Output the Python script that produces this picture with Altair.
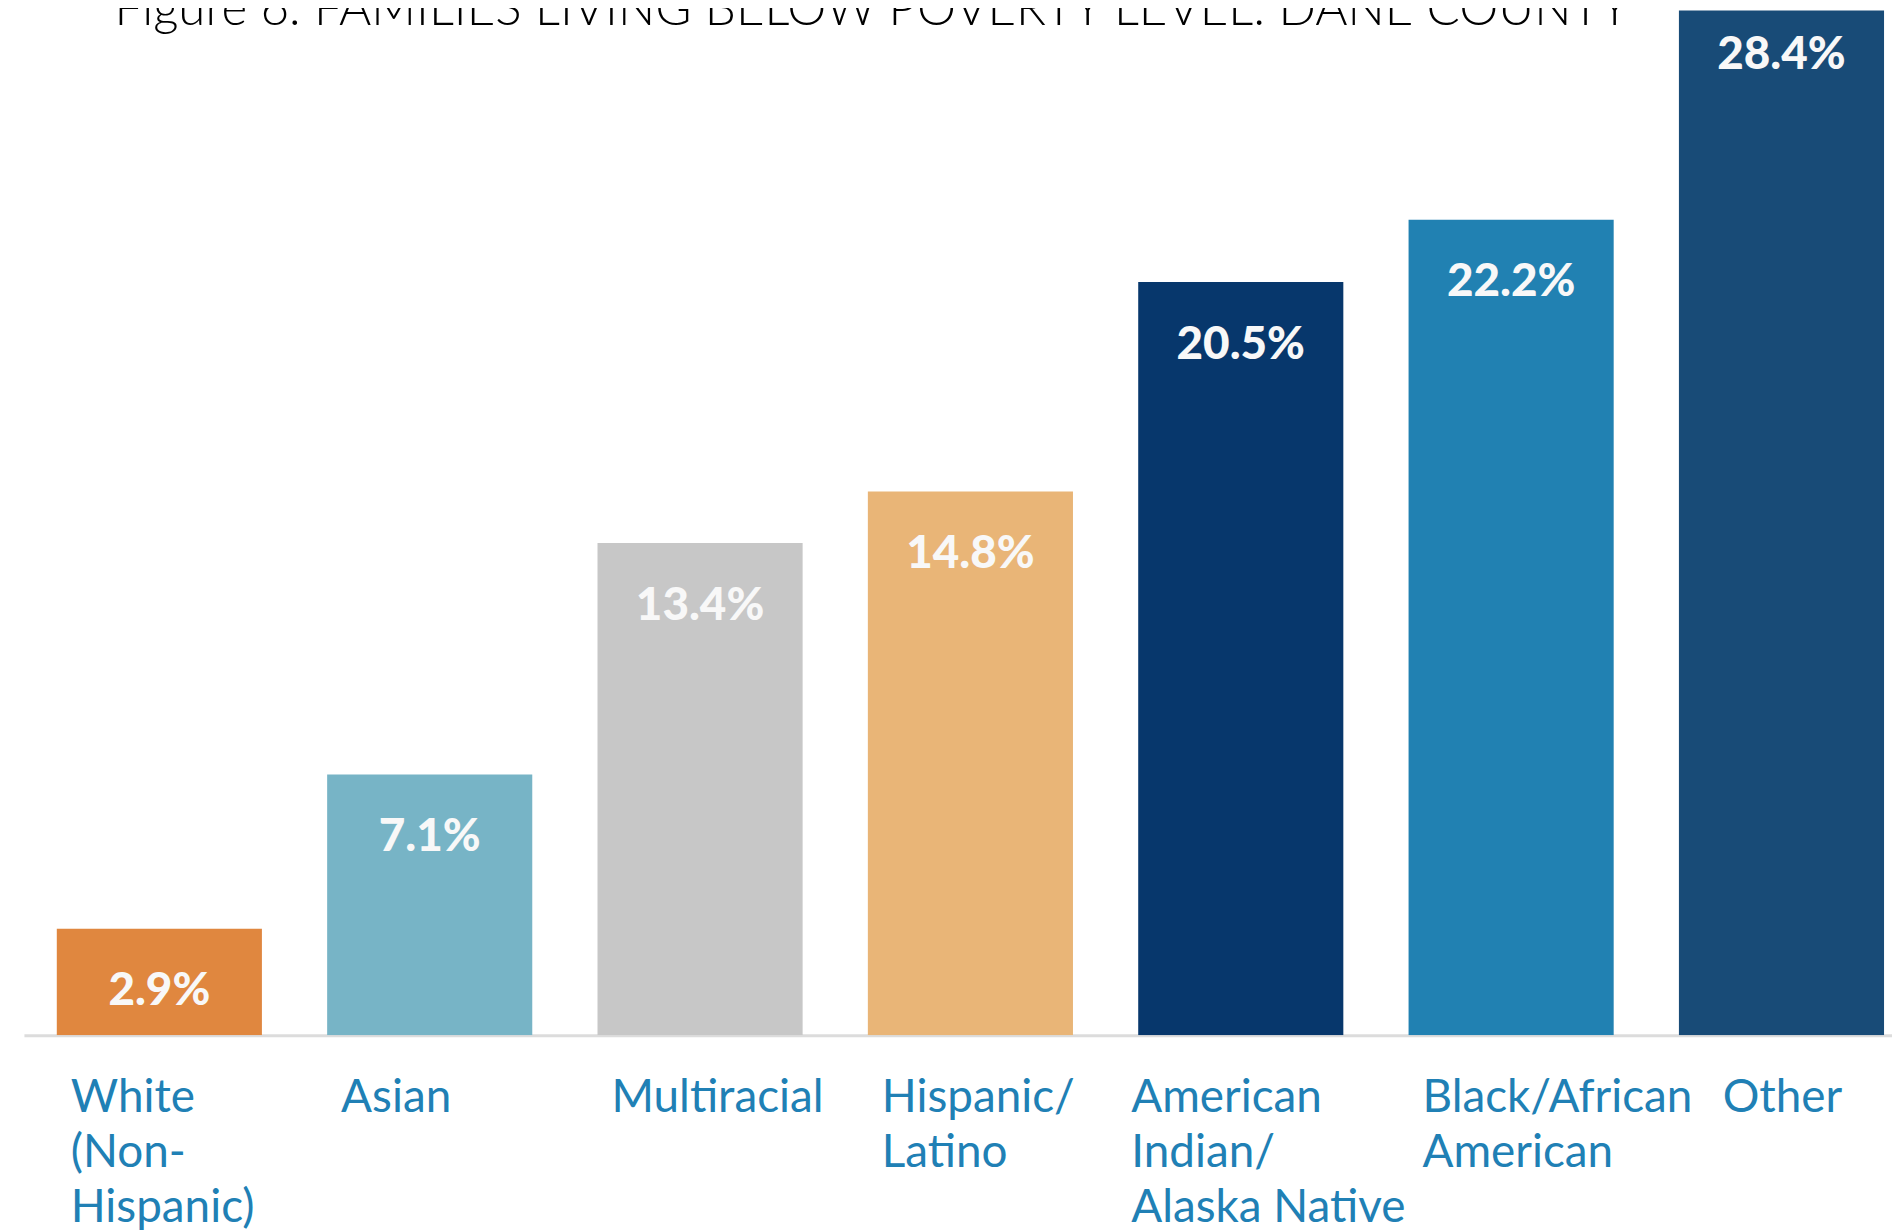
import altair as alt
import pandas as pd

# Data
labels = [
    "White|(Non-|Hispanic)",
    "Asian",
    "Multiracial",
    "Hispanic/|Latino",
    "American|Indian/|Alaska Native",
    "Black/African|American",
    "Other",
]
values = [2.9, 7.1, 13.4, 14.8, 20.5, 22.2, 28.4]
value_text = ["2.9%", "7.1%", "13.4%", "14.8%", "20.5%", "22.2%", "28.4%"]
colors = ["#E0873F", "#77B4C6", "#C7C7C7", "#E9B577", "#07376C", "#2181B2", "#184B77"]
title_text = "Figure 6. FAMILIES LIVING BELOW POVERTY LEVEL: DANE COUNTY"

df = pd.DataFrame({"label": labels, "value": values, "text": value_text})

FONT = "Lato"

x_enc = alt.X(
    "label:N",
    sort=labels,
    title=None,
    scale=alt.Scale(paddingInner=0.2413, paddingOuter=0.0755, align=0.805),
    axis=alt.Axis(
        labelExpr="split(datum.label, '|')",
        labelAngle=0,
        labelAlign="left",
        labelBaseline="alphabetic",
        labelOffset={
            "condition": [
                {"test": "datum.value == 'Other'", "value": -59},
                {"test": "datum.value == 'American|Indian/|Alaska Native'", "value": -110},
            ],
            "value": -89,
        },
        labelPadding=77,
        labelFont=FONT,
        labelFontSize=46,
        labelColor="#2080B5",
        labelLineHeight=55,
        labelLimit=400,
        ticks=False,
        tickSize=0,
        domainColor="#DCDCDC",
        domainWidth=3,
        grid=False,
    ),
)

y_scale = alt.Scale(domain=[0, 27.89], nice=False, zero=True)

bars = alt.Chart(df).mark_bar(clip=True).encode(
    x=x_enc,
    y=alt.Y("value:Q", scale=y_scale, axis=None),
    color=alt.Color("label:N", scale=alt.Scale(domain=labels, range=colors), legend=None),
)

text = alt.Chart(df).mark_text(
    font=FONT,
    fontSize=46,
    fontWeight=900,
    color="#F8F8F8",
    baseline="middle",
    align="center",
    dy=63,
).encode(
    x=alt.X("label:N", sort=labels),
    y=alt.Y("value:Q", scale=y_scale),
    text="text:N",
)

title = alt.Chart(pd.DataFrame({"t": [title_text]})).mark_text(
    font=FONT,
    fontSize=49.5,
    fontWeight=300,
    color="#000000",
    align="left",
    baseline="alphabetic",
).encode(
    x=alt.value(91),
    y=alt.value(14),
    text="t:N",
)

chart = (
    alt.layer(bars, text, title)
    .properties(
        width=1876,
        height=1029,
        autosize=alt.AutoSizeParams(type="none"),
        padding={"left": 16, "top": 0, "right": 0, "bottom": 194},
    )
    .configure_view(stroke=None)
)

chart.save("out.html", embed_options={"renderer": "svg", "actions": False})
